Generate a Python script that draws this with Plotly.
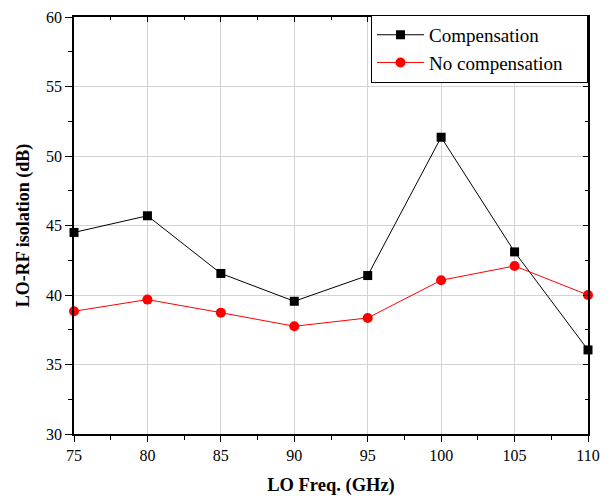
import plotly.graph_objects as go

freq = [75, 80, 85, 90, 95, 100, 105, 110]
compensation = [44.5, 45.7, 41.55, 39.55, 41.4, 51.35, 43.1, 36.05]
no_compensation = [38.83, 39.67, 38.73, 37.75, 38.35, 41.06, 42.09, 40.0]
series_names = ["Compensation", "No compensation"]

FONT = "Liberation Serif"
PAD = "\u00a0" * 4  # extra right padding inside the legend box

fig = go.Figure()
fig.add_trace(go.Scatter(
    x=freq, y=compensation, name=series_names[0], mode="lines+markers",
    line=dict(color="black", width=1),
    marker=dict(symbol="square", size=9, color="black"),
    cliponaxis=False,
))
fig.add_trace(go.Scatter(
    x=freq, y=no_compensation, name=series_names[1] + PAD, mode="lines+markers",
    line=dict(color="#ff0000", width=1),
    marker=dict(symbol="circle", size=10, color="#ff0000"),
    cliponaxis=False,
))
# invisible trace for mirrored inside ticks (top/right)
fig.add_trace(go.Scatter(x=[freq[0]], y=[compensation[0]], xaxis="x2", yaxis="y2",
                         mode="markers", marker=dict(opacity=0), showlegend=False,
                         hoverinfo="skip"))

fig.update_layout(
    width=610, height=496,
    margin=dict(l=74, r=22, t=17, b=62),
    paper_bgcolor="white", plot_bgcolor="white",
    font=dict(family=FONT, size=16, color="black"),
    xaxis=dict(
        range=[75, 110], dtick=5, tick0=75, automargin=False,
        showgrid=True, gridcolor="#d3d3d3", gridwidth=1,
        showline=True, linecolor="black", linewidth=1.5,
        ticks="outside", ticklen=6, tickwidth=1.2, tickcolor="black",
        tickfont=dict(family=FONT, size=16),
        minor=dict(dtick=2.5, ticks="outside", ticklen=4, tickcolor="black", showgrid=False),
        zeroline=False,
        title=dict(text="<b>LO Freq. (GHz)</b>", font=dict(family=FONT, size=18.5), standoff=16),
    ),
    yaxis=dict(
        range=[30, 60], dtick=5, tick0=30, automargin=False,
        showgrid=True, gridcolor="#d3d3d3", gridwidth=1,
        showline=True, linecolor="black", linewidth=1.5,
        ticks="outside", ticklen=7, tickwidth=1.2, tickcolor="black",
        tickfont=dict(family=FONT, size=16),
        minor=dict(dtick=2.5, ticks="outside", ticklen=4, tickcolor="black", showgrid=False),
        zeroline=False,
        title=dict(text="<b>LO-RF isolation (dB)</b>", font=dict(family=FONT, size=18), standoff=12),
    ),
    xaxis2=dict(
        overlaying="x", side="top", range=[75, 110], dtick=5, tick0=75, automargin=False,
        showgrid=False, showline=True, linecolor="black", linewidth=1.5,
        ticks="inside", ticklen=5, tickcolor="black", showticklabels=False,
        minor=dict(dtick=2.5, ticks="inside", ticklen=3, tickcolor="black"),
        zeroline=False,
    ),
    yaxis2=dict(
        overlaying="y", side="right", range=[30, 60], dtick=5, tick0=30, automargin=False,
        showgrid=False, showline=True, linecolor="black", linewidth=1.5,
        ticks="inside", ticklen=5, tickcolor="black", showticklabels=False,
        minor=dict(dtick=2.5, ticks="inside", ticklen=3, tickcolor="black"),
        zeroline=False,
    ),
    legend=dict(
        x=1.0, xanchor="right", y=1.005, yanchor="top",
        bgcolor="white", bordercolor="black", borderwidth=1,
        font=dict(family=FONT, size=19),
        tracegroupgap=0, itemwidth=47,
    ),
    showlegend=True,
)

fig.write_html("out.html")
